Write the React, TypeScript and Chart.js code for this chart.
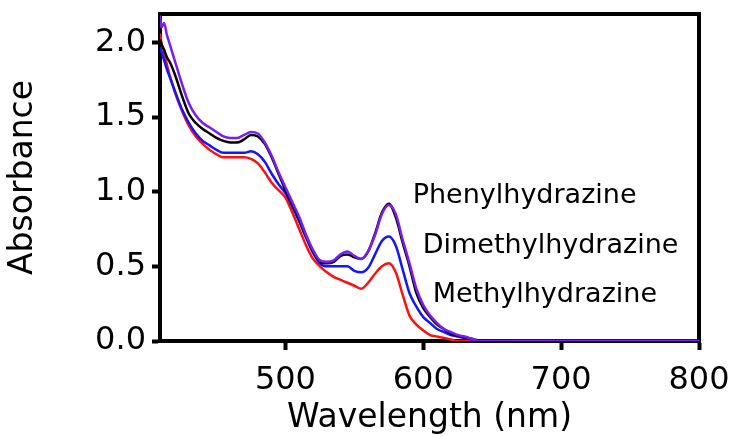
import { useEffect, useRef } from "react";
import { Chart, registerables } from "chart.js";

Chart.register(...registerables);

// Wavelength grid (nm) shared by every spectrum
const wavelengths = [
  409, 410, 412, 414, 416, 420, 425, 430, 435, 440, 445, 450, 455, 460, 465, 470,
  475, 480, 485, 490, 495, 500, 505, 510, 515, 520, 525, 530, 535, 540, 545, 550,
  555, 560, 565, 570, 575, 580, 585, 590, 595, 600, 605, 610, 615, 620, 625, 630,
  635, 640, 700, 800,
];

// Absorbance spectra
const nativeAbs = [
  2.18, 2.1, 2.13, 2.05, 1.99, 1.87, 1.72, 1.59, 1.51, 1.46, 1.43, 1.4, 1.37, 1.36, 1.36, 1.38,
  1.4, 1.39, 1.33, 1.24, 1.13, 1.03, 0.93, 0.83, 0.71, 0.61, 0.54, 0.53, 0.54, 0.58, 0.6, 0.57,
  0.55, 0.6, 0.71, 0.85, 0.91, 0.85, 0.68, 0.52, 0.35, 0.24, 0.17, 0.12, 0.08, 0.06, 0.04, 0.03,
  0.015, 0.0, 0.0, 0.0,
];
const phenylAbs = [
  2.02, 1.99, 1.95, 1.9, 1.87, 1.78, 1.64, 1.52, 1.46, 1.42, 1.39, 1.36, 1.34, 1.33, 1.33, 1.35,
  1.38, 1.37, 1.32, 1.23, 1.12, 1.01, 0.91, 0.81, 0.7, 0.6, 0.53, 0.52, 0.53, 0.57, 0.58, 0.56,
  0.55, 0.6, 0.72, 0.86, 0.92, 0.83, 0.66, 0.5, 0.32, 0.22, 0.16, 0.11, 0.08, 0.05, 0.035, 0.025,
  0.015, 0.005, 0.0, 0.0,
];
const dimethylAbs = [
  1.97, 1.94, 1.88, 1.82, 1.77, 1.67, 1.55, 1.46, 1.39, 1.34, 1.31, 1.28, 1.26, 1.26, 1.26, 1.26,
  1.27, 1.25, 1.2, 1.12, 1.05, 0.99, 0.9, 0.8, 0.69, 0.59, 0.52, 0.5, 0.5, 0.5, 0.5, 0.47,
  0.46, 0.49, 0.58, 0.67, 0.7, 0.64, 0.48, 0.32, 0.23, 0.16, 0.12, 0.08, 0.06, 0.04, 0.03, 0.02,
  0.01, 0.0, 0.0, 0.0,
];
const methylAbs = [
  2.06, 2.0, 1.93, 1.85, 1.78, 1.66, 1.54, 1.44, 1.37, 1.32, 1.28, 1.25, 1.23, 1.23, 1.23, 1.23,
  1.22, 1.19, 1.13, 1.06, 1.01, 0.96, 0.86, 0.75, 0.64, 0.55, 0.5, 0.46, 0.43, 0.41, 0.39, 0.37,
  0.35, 0.39, 0.45, 0.5, 0.52, 0.46, 0.31, 0.17, 0.11, 0.07, 0.04, 0.03, 0.02, 0.01, 0.0, 0.0,
  0.0, 0.0, 0.0, 0.0,
];

const xTickValues = [500, 600, 700, 800];
const yTickValues = [0, 0.5, 1.0, 1.5, 2.0];

// Curve names written next to the peaks, anchored in data units (nm, absorbance)
const curveNames = ["Phenylhydrazine", "Dimethylhydrazine", "Methylhydrazine"];
const curveNameX = [592.3, 599.6, 606.8];
const curveNameY = [0.923, 0.589, 0.261];

const FONT = "'DejaVu Sans', sans-serif";

const toPoints = (values: number[]) => wavelengths.map((x, i) => ({ x, y: values[i] }));

const frameAndNames = {
  id: "frameAndNames",
  beforeDatasetsDraw(chart: any) {
    const { ctx, chartArea } = chart;
    const { left, right, top, bottom } = chartArea;
    ctx.save();
    ctx.strokeStyle = "#000";
    ctx.lineWidth = 4;
    ctx.beginPath();
    ctx.moveTo(left - 2, top);
    ctx.lineTo(right + 2, top);
    ctx.moveTo(right, top);
    ctx.lineTo(right, bottom + 2);
    ctx.stroke();
    ctx.restore();
  },
  afterDatasetsDraw(chart: any) {
    const { ctx, scales } = chart;
    ctx.save();
    ctx.fillStyle = "#000";
    ctx.font = `27px ${FONT}`;
    ctx.textAlign = "left";
    ctx.textBaseline = "alphabetic";
    curveNames.forEach((name, i) => {
      ctx.fillText(
        name,
        scales.x.getPixelForValue(curveNameX[i]),
        scales.y.getPixelForValue(curveNameY[i])
      );
    });
    ctx.restore();
  },
};

export default function App() {
  const canvasRef = useRef<HTMLCanvasElement | null>(null);

  useEffect(() => {
    const canvas = canvasRef.current;
    if (!canvas) return;

    const line = (label: string, values: number[], color: string) => ({
      label,
      data: toPoints(values),
      borderColor: color,
      backgroundColor: color,
      borderWidth: 2.5,
      pointRadius: 0,
      cubicInterpolationMode: "monotone" as const,
      fill: false,
    });

    const chart = new Chart(canvas, {
      type: "line",
      data: {
        datasets: [
          line("Native", nativeAbs, "#7a1cf5"),
          line("Phenylhydrazine", phenylAbs, "#000000"),
          line("Dimethylhydrazine", dimethylAbs, "#1414ff"),
          line("Methylhydrazine", methylAbs, "#ff1010"),
        ],
      },
      options: {
        responsive: false,
        animation: false,
        devicePixelRatio: 1,
        layout: { padding: { left: 0, right: 38, top: 14, bottom: 0 } },
        plugins: {
          legend: { display: false },
          tooltip: { enabled: false },
        },
        scales: {
          x: {
            type: "linear",
            min: 409,
            max: 800,
            afterBuildTicks: (s: any) => {
              s.ticks = xTickValues.map((value) => ({ value }));
            },
            afterFit: (s: any) => {
              s.height = 96;
              s.paddingLeft = 0;
              s.paddingRight = 0;
            },
            grid: {
              display: true,
              drawOnChartArea: false,
              drawTicks: true,
              tickLength: 9,
              tickWidth: 4,
              color: "#000",
              tickColor: "#000",
            },
            border: { display: true, color: "#000", width: 4 },
            ticks: {
              color: "#000",
              font: { family: FONT, size: 32 },
              padding: 11,
              maxRotation: 0,
              autoSkip: false,
              callback: (v: any) => String(v),
            },
            title: {
              display: true,
              text: "Wavelength (nm)",
              color: "#000",
              font: { family: FONT, size: 33, lineHeight: 1 },
              padding: { top: 0, bottom: 2 },
            },
          },
          y: {
            type: "linear",
            min: 0,
            max: 2.19,
            afterBuildTicks: (s: any) => {
              s.ticks = yTickValues.map((value) => ({ value }));
            },
            afterFit: (s: any) => {
              s.width = 160;
              s.paddingTop = 0;
              s.paddingBottom = 0;
            },
            grid: {
              display: true,
              drawOnChartArea: false,
              drawTicks: true,
              tickLength: 8,
              tickWidth: 4,
              color: "#000",
              tickColor: "#000",
            },
            border: { display: true, color: "#000", width: 4 },
            ticks: {
              color: "#000",
              font: { family: FONT, size: 32 },
              padding: 6,
              autoSkip: false,
              callback: (v: any) => Number(v).toFixed(1),
            },
            title: {
              display: true,
              text: "Absorbance",
              color: "#000",
              font: { family: FONT, size: 33, lineHeight: 1 },
              padding: { top: 7, bottom: 0 },
            },
          },
        },
      },
      plugins: [frameAndNames],
    });

    return () => chart.destroy();
  }, []);

  return (
    <div style={{ position: "fixed", left: 0, top: 0, width: 737, height: 437, background: "#fff" }}>
      <canvas ref={canvasRef} width={737} height={437} style={{ display: "block" }} />
    </div>
  );
}
